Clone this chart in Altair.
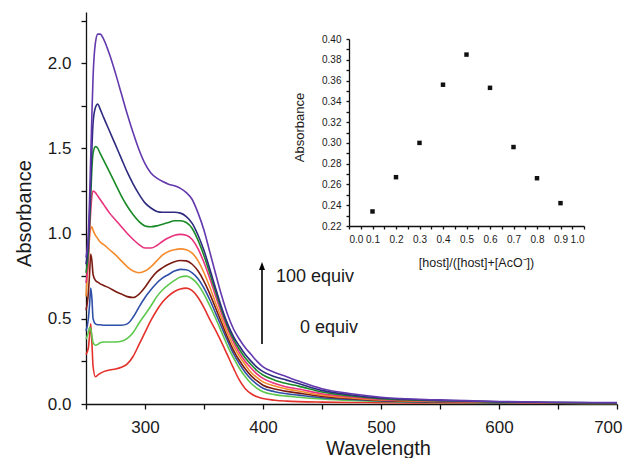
import altair as alt
import pandas as pd

# ---------------- data ----------------
wavelength = [250, 252, 253, 254, 255, 256, 258, 260, 262, 265,
              270, 275, 280, 285, 290, 295, 300, 305, 310, 315, 320, 325, 330, 335,
              340, 345, 350, 355, 360, 365, 370, 375, 380, 385, 390, 395, 400,
              410, 420, 430, 450, 475, 500, 550, 600, 650, 700]

series_names = ["s0", "s1", "s2", "s3", "s4", "s5", "s6", "s7", "s8"]
series_colors = ["#e4312b", "#5ec84e", "#2f4fa8", "#7b1c12", "#f68b2c",
                 "#e8337e", "#198a27", "#2e2a7f", "#6339ad"]

abs_red = [0.29, 0.33, 0.40, 0.47, 0.36, 0.22, 0.16, 0.17, 0.18, 0.19,
           0.20, 0.205, 0.215, 0.235, 0.28, 0.35, 0.42, 0.49, 0.55, 0.60, 0.635, 0.66, 0.675, 0.68,
           0.665, 0.625, 0.565, 0.495, 0.43, 0.36, 0.285, 0.21, 0.14, 0.09, 0.06, 0.042, 0.032,
           0.022, 0.017, 0.014, 0.011, 0.009, 0.008, 0.006, 0.005, 0.004, 0.003]
abs_lgreen = [0.38, 0.42, 0.45, 0.44, 0.40, 0.36, 0.345, 0.35, 0.36, 0.364,
              0.364, 0.364, 0.368, 0.385, 0.42, 0.475, 0.525, 0.575, 0.63, 0.67, 0.70, 0.725, 0.745, 0.75,
              0.735, 0.70, 0.645, 0.575, 0.50, 0.42, 0.34, 0.27, 0.21, 0.16, 0.12, 0.092, 0.072,
              0.055, 0.046, 0.04, 0.03, 0.021, 0.015, 0.009, 0.006, 0.004, 0.003]
abs_blue = [0.43, 0.50, 0.58, 0.68, 0.62, 0.50, 0.47, 0.465, 0.465, 0.462,
            0.462, 0.462, 0.462, 0.47, 0.51, 0.57, 0.625, 0.67, 0.71, 0.74, 0.76, 0.78, 0.79, 0.788,
            0.77, 0.735, 0.68, 0.61, 0.53, 0.45, 0.37, 0.295, 0.235, 0.185, 0.145, 0.115, 0.092,
            0.072, 0.06, 0.052, 0.037, 0.026, 0.018, 0.011, 0.008, 0.005, 0.004]
abs_maroon = [0.55, 0.65, 0.76, 0.88, 0.84, 0.76, 0.725, 0.715, 0.705, 0.695,
              0.68, 0.66, 0.645, 0.63, 0.625, 0.645, 0.685, 0.735, 0.775, 0.80, 0.82, 0.835, 0.842, 0.84,
              0.82, 0.78, 0.72, 0.645, 0.56, 0.475, 0.39, 0.315, 0.255, 0.205, 0.165, 0.135, 0.11,
              0.088, 0.074, 0.064, 0.045, 0.031, 0.021, 0.013, 0.009, 0.006, 0.004]
abs_orange = [0.63, 0.85, 0.98, 1.03, 1.04, 1.02, 0.99, 0.97, 0.95, 0.935,
              0.905, 0.875, 0.84, 0.805, 0.78, 0.77, 0.78, 0.805, 0.84, 0.875, 0.895, 0.905, 0.91, 0.905,
              0.885, 0.84, 0.77, 0.685, 0.59, 0.50, 0.415, 0.34, 0.28, 0.23, 0.185, 0.155, 0.13,
              0.105, 0.088, 0.076, 0.052, 0.036, 0.024, 0.015, 0.01, 0.007, 0.005]
abs_pink = [0.71, 0.85, 1.0, 1.13, 1.22, 1.25, 1.24, 1.22, 1.20, 1.17,
            1.12, 1.08, 1.04, 1.0, 0.965, 0.935, 0.915, 0.915, 0.93, 0.955, 0.975, 0.99, 0.995, 0.99,
            0.965, 0.91, 0.83, 0.735, 0.63, 0.53, 0.44, 0.365, 0.30, 0.25, 0.21, 0.175, 0.15,
            0.12, 0.10, 0.088, 0.06, 0.041, 0.027, 0.017, 0.011, 0.007, 0.005]
abs_green = [0.77, 0.9, 1.05, 1.22, 1.38, 1.47, 1.51, 1.50, 1.47, 1.43,
             1.36, 1.29, 1.22, 1.16, 1.11, 1.07, 1.045, 1.04, 1.045, 1.055, 1.065, 1.075, 1.075, 1.065,
             1.03, 0.96, 0.87, 0.765, 0.655, 0.55, 0.455, 0.38, 0.32, 0.27, 0.23, 0.195, 0.17,
             0.14, 0.12, 0.105, 0.07, 0.047, 0.031, 0.019, 0.012, 0.008, 0.006]
abs_indigo = [0.82, 0.95, 1.1, 1.3, 1.5, 1.65, 1.74, 1.76, 1.73, 1.68,
              1.60, 1.52, 1.44, 1.36, 1.29, 1.23, 1.18, 1.15, 1.13, 1.125, 1.125, 1.125, 1.12, 1.10,
              1.06, 0.99, 0.90, 0.79, 0.675, 0.565, 0.47, 0.395, 0.34, 0.29, 0.25, 0.215, 0.19,
              0.16, 0.14, 0.12, 0.08, 0.053, 0.035, 0.021, 0.013, 0.009, 0.007]
abs_violet = [0.86, 1.0, 1.2, 1.45, 1.7, 1.92, 2.12, 2.17, 2.17, 2.14,
              2.05, 1.94, 1.82, 1.70, 1.59, 1.49, 1.41, 1.355, 1.325, 1.305, 1.29, 1.28, 1.265, 1.24,
              1.20, 1.12, 1.02, 0.89, 0.76, 0.635, 0.525, 0.44, 0.38, 0.33, 0.29, 0.25, 0.218,
              0.185, 0.16, 0.135, 0.09, 0.06, 0.04, 0.024, 0.015, 0.01, 0.008]

all_series = [abs_red, abs_lgreen, abs_blue, abs_maroon, abs_orange,
              abs_pink, abs_green, abs_indigo, abs_violet]

# Job plot (inset)
job_ratio = [0.1, 0.2, 0.3, 0.4, 0.5, 0.6, 0.7, 0.8, 0.9]
job_abs = [0.234, 0.267, 0.300, 0.356, 0.385, 0.353, 0.296, 0.266, 0.242]

annot_labels = ["100 equiv", "0 equiv"]

# ---------------- tables ----------------
rows = []
for name, vals in zip(series_names, all_series):
    for w, a in zip(wavelength, vals):
        rows.append({"wavelength": w, "absorbance": a, "series": name})
spectra = pd.DataFrame(rows)
job = pd.DataFrame({"ratio": job_ratio, "abs": job_abs})

FONT = "Liberation Sans"
W, H = 531, 392

x_ticks = list(range(250, 701, 50))
y_ticks = [i * 0.25 for i in range(0, 10)]
inset_x_ticks = [round(i * 0.05, 2) for i in range(0, 21)]
inset_y_ticks = [round(0.22 + i * 0.01, 2) for i in range(0, 19)]

lines = alt.Chart(spectra).mark_line(strokeWidth=1.6, interpolate="monotone").encode(
    x=alt.X("wavelength:Q",
            scale=alt.Scale(domain=[250, 700], nice=False, zero=False),
            axis=alt.Axis(values=x_ticks, labelExpr="datum.value % 100 == 0 ? datum.label : ''",
                          grid=False, tickSize=5, labelPadding=10, labelFontSize=17,
                          labelFlush=True, labelFlushOffset=5,
                          title="Wavelength", titleFontSize=20, titleFontWeight="normal",
                          titleX=292, titleY=50, titleBaseline="alphabetic",
                          titleAlign="center")),
    y=alt.Y("absorbance:Q",
            scale=alt.Scale(domain=[0, 2.3], nice=False),
            axis=alt.Axis(values=y_ticks,
                          labelExpr="datum.value % 0.5 == 0 ? format(datum.value, '.1f') : ''",
                          grid=False, tickSize=5, labelPadding=10, labelFontSize=17,
                          title="Absorbance", titleFontSize=20, titleFontWeight="normal",
                          titleX=-62, titleY=201, titleBaseline="middle", titleAlign="center",
                          titleAngle=-90)),
    color=alt.Color("series:N", scale=alt.Scale(domain=series_names, range=series_colors),
                    legend=None),
)

arrow_line = alt.Chart(pd.DataFrame({"a": [0]})).mark_rule(color="black", strokeWidth=1.6).encode(
    x=alt.value(176), y=alt.value(256), y2=alt.value(332))
arrow_head = alt.Chart(pd.DataFrame({"a": [0]})).mark_point(
    shape="M0,-1L0.75,1L-0.75,1Z", filled=True, color="black", opacity=1, size=64,
    strokeWidth=0).encode(x=alt.value(176), y=alt.value(254))
txt_hi = alt.Chart(pd.DataFrame({"t": [annot_labels[0]]})).mark_text(
    align="left", baseline="alphabetic", fontSize=18, font=FONT, color="#1a1a1a").encode(
    text="t:N", x=alt.value(190), y=alt.value(270))
txt_lo = alt.Chart(pd.DataFrame({"t": [annot_labels[1]]})).mark_text(
    align="left", baseline="alphabetic", fontSize=18, font=FONT, color="#1a1a1a").encode(
    text="t:N", x=alt.value(214), y=alt.value(321))

inset = alt.Chart(job).mark_square(size=20, color="#111111", opacity=1).encode(
    x=alt.X("ratio:Q", scale=alt.Scale(domain=[0, 1], range=[263, 498], nice=False),
            axis=alt.Axis(orient="bottom", offset=-178, values=inset_x_ticks,
                          labelExpr="round(datum.value*100) % 10 == 0 ? format(datum.value, '.1f') : ''",
                          grid=False, tickSize=3, labelPadding=5, labelFontSize=10,
                          title="[host]/([host]+[AcO⁻])", titleFontSize=12.5,
                          titleFontWeight="normal", titleX=390, titleY=40,
                          titleBaseline="alphabetic", titleAlign="center")),
    y=alt.Y("abs:Q", scale=alt.Scale(domain=[0.22, 0.40], range=[214, 27], nice=False, zero=False),
            axis=alt.Axis(orient="left", offset=-263, values=inset_y_ticks,
                          labelExpr="round(datum.value*100) % 2 == 0 ? format(datum.value, '.2f') : ''",
                          grid=False, tickSize=3, labelPadding=5, labelFontSize=10,
                          title="Absorbance", titleFontSize=13, titleFontWeight="normal",
                          titleX=-50, titleY=115, titleBaseline="middle", titleAlign="center",
                          titleAngle=-90)),
)

chart = alt.layer(lines, arrow_line, arrow_head, txt_hi, txt_lo, inset).resolve_scale(
    x="independent", y="independent"
).properties(
    width=W, height=H,
    autosize=alt.AutoSizeParams(type="none"),
    padding={"left": 78, "top": 4, "right": 7, "bottom": 54},
).configure_view(stroke=None).configure_axis(
    labelFont=FONT, titleFont=FONT, labelColor="#1a1a1a", titleColor="#1a1a1a",
    domainColor="#111111", tickColor="#111111", domainWidth=1.3, tickWidth=1.3,
)

chart.save("out.html", embed_options={"renderer": "svg", "actions": False})
